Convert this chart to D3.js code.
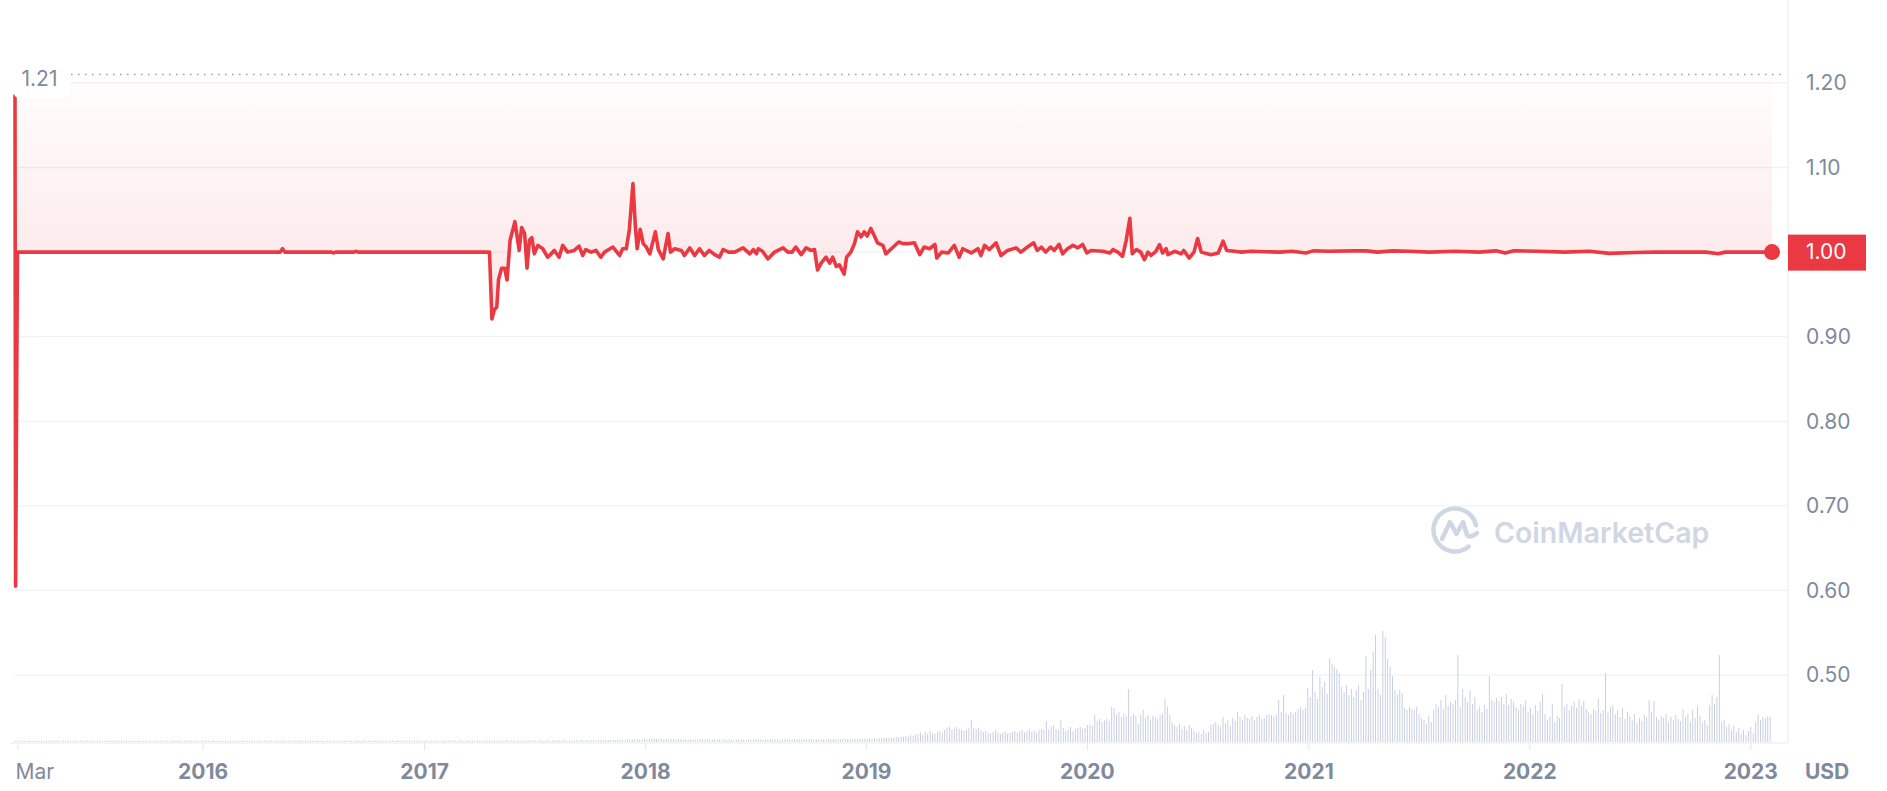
<!DOCTYPE html>
<html><head><meta charset="utf-8">
<script src="https://cdn.jsdelivr.net/npm/d3@7"></script>
<style>html,body{margin:0;padding:0;background:#fff;}svg{display:block;font-family:Inter,"Noto Sans",sans-serif;}</style>
</head><body>
<svg id="chart" width="1887" height="791"></svg>
<script>
// ---- DATA ----
const priceSeries = [
["2015-02-25",1.185],["2015-02-26",0.605],["2015-03-01",1.0],
["2016-05-08",1.0],["2016-05-12",1.004],["2016-05-16",1.0],
["2016-08-01",1.0],["2016-08-04",0.999],["2016-08-08",1.0],
["2016-09-07",1.0],["2016-09-10",1.001],["2016-09-14",1.0],
["2017-04-19",1.0],["2017-04-23",0.921],["2017-04-27",0.932],["2017-05-01",0.935],["2017-05-04",0.968],["2017-05-09",0.981],["2017-05-14",0.981],["2017-05-18",0.967],["2017-05-23",1.014],["2017-05-31",1.036],["2017-06-07",1.002],["2017-06-11",1.029],["2017-06-16",1.022],["2017-06-20",0.981],["2017-06-24",1.014],["2017-06-28",1.017],["2017-07-02",0.998],["2017-07-08",1.008],["2017-07-16",1.004],["2017-07-24",0.994],["2017-07-30",0.998],["2017-08-04",1.002],["2017-08-12",0.994],["2017-08-18",1.008],["2017-08-26",1.0],["2017-09-06",1.002],["2017-09-14",1.007],["2017-09-20",0.996],["2017-09-25",1.003],["2017-10-04",1.0],["2017-10-12",1.002],["2017-10-20",0.994],["2017-10-26",1.0],["2017-11-09",1.006],["2017-11-20",0.996],["2017-11-25",1.004],["2017-12-01",1.004],["2017-12-06",1.026],["2017-12-12",1.081],["2017-12-16",1.03],["2017-12-19",1.004],["2017-12-24",1.027],["2017-12-29",1.01],
["2018-01-03",1.006],["2018-01-09",0.998],["2018-01-18",1.024],["2018-01-23",1.003],["2018-01-31",0.992],["2018-02-08",1.022],["2018-02-12",1.0],["2018-02-19",1.004],["2018-03-02",1.002],["2018-03-07",0.996],["2018-03-16",1.005],["2018-03-24",0.996],["2018-04-01",1.004],["2018-04-09",0.996],["2018-04-17",1.002],["2018-04-26",0.997],["2018-05-04",0.994],["2018-05-10",1.003],["2018-05-19",1.0],["2018-05-29",1.0],["2018-06-12",1.005],["2018-06-23",0.998],["2018-06-29",1.003],["2018-07-04",0.998],["2018-07-07",1.004],["2018-07-14",1.001],["2018-07-23",0.992],["2018-08-03",1.0],["2018-08-17",1.005],["2018-08-25",1.0],["2018-09-01",1.0],["2018-09-07",1.006],["2018-09-16",0.997],["2018-09-24",1.005],["2018-10-02",1.002],["2018-10-08",1.003],["2018-10-13",0.979],["2018-10-19",0.987],["2018-10-27",0.994],["2018-11-02",0.987],["2018-11-07",0.994],["2018-11-13",0.983],["2018-11-18",0.985],["2018-11-26",0.974],["2018-11-30",0.994],["2018-12-07",1.0],["2018-12-13",1.01],["2018-12-18",1.024],["2018-12-24",1.018],["2018-12-29",1.024],
["2019-01-03",1.019],["2019-01-09",1.028],["2019-01-15",1.019],["2019-01-20",1.011],["2019-01-29",1.008],["2019-02-03",0.998],["2019-02-12",1.004],["2019-02-24",1.012],["2019-03-03",1.01],["2019-03-11",1.01],["2019-03-22",1.011],["2019-03-31",0.997],["2019-04-07",1.006],["2019-04-16",1.004],["2019-04-25",1.009],["2019-04-28",0.993],["2019-05-06",1.0],["2019-05-17",0.999],["2019-05-27",1.008],["2019-06-04",0.994],["2019-06-10",1.004],["2019-06-24",0.999],["2019-07-05",1.004],["2019-07-10",0.996],["2019-07-16",1.008],["2019-07-24",1.003],["2019-08-04",1.011],["2019-08-12",0.996],["2019-08-23",1.002],["2019-09-06",1.005],["2019-09-14",1.0],["2019-09-25",1.006],["2019-10-05",1.011],["2019-10-11",1.002],["2019-10-18",1.006],["2019-10-25",1.0],["2019-11-02",1.006],["2019-11-08",1.002],["2019-11-16",1.009],["2019-11-22",0.998],["2019-11-30",1.004],["2019-12-09",1.008],["2019-12-17",1.005],["2019-12-25",1.009],
["2020-01-01",0.999],["2020-01-08",1.002],["2020-01-27",1.001],["2020-02-08",0.999],["2020-02-13",1.003],["2020-02-21",1.0],["2020-02-29",0.995],["2020-03-06",1.014],["2020-03-12",1.04],["2020-03-16",0.998],["2020-03-23",1.003],["2020-03-30",1.0],["2020-04-05",0.991],["2020-04-11",1.0],["2020-04-16",0.996],["2020-04-24",1.001],["2020-04-30",1.009],["2020-05-05",0.999],["2020-05-11",1.004],["2020-05-14",0.997],["2020-05-25",1.001],["2020-06-05",0.998],["2020-06-09",1.002],["2020-06-18",0.993],["2020-06-26",1.0],["2020-07-02",1.016],["2020-07-08",1.0],["2020-07-24",0.997],["2020-08-05",0.999],["2020-08-13",1.013],["2020-08-19",1.002],["2020-09-01",1.001],["2020-09-12",1.0],["2020-09-29",1.001],["2020-10-20",1.0005],["2020-11-15",1.0],["2020-12-05",1.001],["2020-12-28",0.999],
["2021-01-09",1.0015],["2021-02-05",1.001],["2021-03-18",1.0015],["2021-04-07",1.0015],["2021-04-25",1.0],["2021-05-20",1.0015],["2021-06-15",1.001],["2021-07-20",1.0],["2021-09-01",1.001],["2021-10-10",1.0],["2021-11-07",1.0015],["2021-11-22",0.999],["2021-12-07",1.0015],
["2022-01-15",1.001],["2022-03-01",1.0],["2022-04-10",1.001],["2022-05-13",0.9985],["2022-06-26",0.9995],["2022-07-26",1.0],["2022-09-15",1.0],["2022-10-20",1.0],["2022-11-09",0.998],["2022-11-21",1.0],["2022-12-30",1.0],["2023-02-06",1.0]
];

// trading volume, one bar every 4 days from volumeStart (relative, estimated)
const volumeStart = "2015-02-25";
const volumeStepDays = 4;
const volume = [
1.2,1.2,1.3,1.2,1.2,1.2,1.3,1.2,1.2,1.2,1.2,1.3,1.2,1.2,1.2,1.2,1.3,1.2,1.2,1.2,
1.2,1.3,1.2,1.2,1.2,1.2,1.3,1.2,1.2,1.3,1.2,1.2,1.2,1.3,1.2,1.2,1.2,1.2,1.3,1.2,
1.2,1.2,1.3,1.2,1.2,1.3,1.2,1.2,1.2,1.2,1.3,1.2,1.2,1.2,1.3,1.2,1.2,1.2,1.2,1.3,
1.2,1.3,1.2,1.2,1.2,1.3,1.2,1.2,1.3,1.2,1.2,1.2,1.3,1.2,1.2,1.2,1.3,1.2,1.2,1.2,
1.2,1.2,1.3,1.2,1.2,1.2,1.3,1.2,1.2,1.3,1.2,1.2,1.2,1.2,1.3,1.2,1.2,1.3,1.2,1.2,
1.3,1.2,1.2,1.2,1.3,1.2,1.2,1.3,1.2,1.2,1.2,1.3,1.2,1.2,1.3,1.2,1.2,1.2,1.3,1.2,
1.2,1.3,1.2,1.3,1.2,1.2,1.3,1.2,1.2,1.3,1.2,1.3,1.2,1.2,1.3,1.2,1.3,1.2,1.2,1.3,
1.3,1.2,1.3,1.2,1.3,1.3,1.2,1.3,1.2,1.3,1.3,1.2,1.3,1.3,1.2,1.3,1.3,1.2,1.3,1.3,
1.3,1.3,1.2,1.3,1.3,1.3,1.4,1.3,1.3,1.3,1.4,1.3,1.3,1.4,1.3,1.3,1.4,1.3,1.4,1.3,
1.4,1.3,1.4,1.3,1.4,1.4,1.3,1.4,1.4,1.3,1.4,1.4,1.4,1.3,1.4,1.4,1.4,1.3,1.4,1.4,
1.3,1.4,1.3,1.4,1.4,1.3,1.4,1.5,1.4,1.3,1.4,1.4,1.5,1.4,1.3,1.4,1.5,1.4,1.4,1.5,
1.5,1.4,1.5,1.6,1.5,1.4,1.5,1.6,1.5,1.5,1.6,1.5,1.7,1.6,1.5,1.6,1.7,1.6,1.8,1.7,
1.8,1.7,1.9,2.0,1.8,2.1,1.9,2.2,2.0,2.3,2.1,2.5,2.2,2.4,2.8,2.3,2.6,3.0,2.5,2.8,
3.2,2.6,3.6,3.0,4.0,3.1,2.6,3.3,2.8,3.4,2.6,3.0,2.7,2.5,3.1,2.7,2.6,2.4,2.7,2.5,
2.4,2.6,2.3,2.8,2.5,2.4,2.7,2.3,2.5,2.6,2.3,2.4,2.7,2.5,2.3,2.6,2.4,2.5,2.3,2.6,
2.5,2.3,2.6,2.4,2.2,2.5,2.7,2.4,2.3,2.5,2.6,2.4,2.8,2.5,2.3,2.6,2.4,2.5,2.7,2.4,
2.6,2.4,2.5,2.8,2.6,2.4,2.7,2.5,2.9,2.6,2.5,2.7,2.6,2.8,2.5,2.7,2.9,2.6,2.8,2.7,
2.8,2.6,2.9,2.7,3.0,2.8,2.7,3.0,2.9,3.1,3.0,3.3,3.1,3.5,3.2,3.6,3.4,3.8,3.5,4.0,
4.2,3.9,4.5,4.3,5.0,4.6,5.5,5.2,6.0,5.6,6.8,6.2,7.0,8.0,9.5,7.5,10.5,8.5,11,9,
8.5,10,11,9.5,12,14.5,15,12.5,13.5,15,13,12,11,12.5,14,22,14,13,14,12,
10,11,9,8.5,10,12,9.5,8,9,10.5,8.5,9.5,10,11,9,10.5,12,9.5,11,13,
10,11.5,9.5,12,13,12,21,12.5,15,17,13,12,22,14,11,12.5,15,10.5,13,14,
15,13,14,17,17.5,16,27,21,23,20,22,23,21,35,34,27,30,25,28,26,
53,25,28,26,18,27,32,24,27,22,26,25,23,27,28,43,35,27,20,17,
15,18,13,16,12,17,14,11,9,10,8,12,9,10,17,18,20,17,15,25,
19,22,16,24,21,30,25,22,27,24,23,26,22,25,27,23,24,27,28,27,
25,27,42,30,47,29,27,30,28,30,33,35,32,34,54,45,72,50,43,65,
55,60,48,83,78,75,73,69,55,50,57,47,53,45,52,57,42,50,86,53,
72,90,107,53,47,111,105,83,75,66,52,47,52,49,34,32,35,33,32,35,
28,24,22,18,26,20,32,38,35,42,33,47,36,40,38,42,87,35,53,45,
40,52,38,45,32,35,30,37,33,66,42,40,44,41,45,38,48,37,43,40,
35,32,38,36,42,30,34,28,37,31,40,48,28,22,25,38,20,26,24,58,
35,38,32,36,40,34,43,36,41,33,30,28,33,31,43,29,32,69,30,35,
37,28,32,25,34,23,30,26,22,28,19,24,21,27,24,42,30,41,25,22,
26,24,28,20,25,22,27,23,21,33,25,28,20,32,24,36,26,19,22,17,
37,47,38,45,87,20,22,15,18,12,16,10,14,8,12,7,11,15,9,20,
28,22,25,24,26,25
];

const yTicks = [1.2, 1.1, 1.0, 0.9, 0.8, 0.7, 0.6, 0.5];
const xTickDates = ["2015-03-01","2016-01-01","2017-01-01","2018-01-01","2019-01-01","2020-01-01","2021-01-01","2022-01-01","2023-01-01"];
const xTickLabels = ["Mar","2016","2017","2018","2019","2020","2021","2022","2023"];
const maxPrice = 1.21;
const yDomain = [0.42, 1.21];
const xDomain = ["2015-02-25","2023-02-06"];
const currencyLabel = "USD";
const watermarkText = "CoinMarketCap";

// ---- DRAWING ----
const parse = d3.utcParse("%Y-%m-%d");
const prices = priceSeries.map(([d, v]) => ({date: parse(d), value: v}));
const vStart = parse(volumeStart);
const bars = volume.map((v, i) => ({date: d3.utcDay.offset(vStart, i * volumeStepDays), value: v}));
const last = prices[prices.length - 1];

const RED = "#ea3943", GRAY = "#808a9d", GRID = "#f0f2f5";
const plotLeft = 15, plotRight = 1788, plotBottom = 743;

const x = d3.scaleUtc().domain(xDomain.map(parse)).range([15, 1772]);
const y = d3.scaleLinear().domain(yDomain).range([742.7, 74.5]);
const vy = d3.scaleLinear().domain([0, d3.max(volume)]).range([742, 631]);

const svg = d3.select("#chart");
const defs = svg.append("defs");
const grad = defs.append("linearGradient").attr("id", "areaGrad")
  .attr("gradientUnits", "userSpaceOnUse")
  .attr("x1", 0).attr("x2", 0).attr("y1", y(maxPrice)).attr("y2", y(1.0));
grad.append("stop").attr("offset", 0).attr("stop-color", RED).attr("stop-opacity", 0.01);
grad.append("stop").attr("offset", 1).attr("stop-color", RED).attr("stop-opacity", 0.1);

// grid
svg.append("g").selectAll("line").data(yTicks).join("line")
  .attr("x1", plotLeft).attr("x2", plotRight)
  .attr("y1", d => y(d)).attr("y2", d => y(d))
  .attr("stroke", GRID).attr("stroke-width", 1.2);

// right border & bottom axis line
svg.append("line").attr("x1", plotRight).attr("x2", plotRight).attr("y1", 0).attr("y2", plotBottom)
  .attr("stroke", GRID).attr("stroke-width", 1.5);
svg.append("line").attr("x1", plotLeft - 5).attr("x2", plotRight).attr("y1", plotBottom).attr("y2", plotBottom)
  .attr("stroke", GRID).attr("stroke-width", 1.5);

// dotted max line
svg.append("line").attr("x1", plotLeft).attr("x2", plotRight - 2)
  .attr("y1", y(maxPrice)).attr("y2", y(maxPrice))
  .attr("stroke", "#9ea6b8").attr("stroke-width", 1.6).attr("stroke-dasharray", "1.6 5.4");

// watermark
const wm = svg.append("g").attr("fill", "none").attr("stroke", "#cfd6e4")
  .attr("stroke-width", 4.5).attr("stroke-linecap", "round").attr("stroke-linejoin", "round");
const cx = 1455, cy = 530, r = 21.5;
const arc = d3.path();
arc.arc(cx, cy, r, Math.PI * 0.28, Math.PI * 1.93, false);
wm.append("path").attr("d", arc.toString());
wm.append("path").attr("d", `M${cx-13},${cy+9} L${cx-5},${cy-8} L${cx+1.5},${cy+4} L${cx+8},${cy-8} L${cx+12},${cy+5} Q${cx+15},${cy+9} ${cx+22},${cy+3}`);
svg.append("text").attr("x", 1494).attr("y", 543).text(watermarkText)
  .attr("font-size", 28.5).attr("font-weight", 600).attr("fill", "#cfd6e4");

// volume bars
svg.append("g").selectAll("rect").data(bars).join("rect")
  .attr("x", d => x(d.date) - 0.45).attr("width", 0.9)
  .attr("y", d => vy(d.value)).attr("height", d => 742 - vy(d.value))
  .attr("fill", "#c3cbdd");

// area
svg.append("path").datum(prices)
  .attr("d", d3.area().x(d => x(d.date)).y0(y(maxPrice)).y1(d => y(d.value)))
  .attr("fill", "url(#areaGrad)");

// line
svg.append("path").datum(prices)
  .attr("d", d3.line().x(d => x(d.date)).y(d => y(d.value)))
  .attr("fill", "none").attr("stroke", RED).attr("stroke-width", 3.6)
  .attr("stroke-linejoin", "round").attr("stroke-linecap", "round");

// last dot
svg.append("circle").attr("cx", x(last.date)).attr("cy", y(last.value)).attr("r", 8).attr("fill", RED);

// max label
svg.append("rect").attr("x", 14).attr("y", 64).attr("width", 56).attr("height", 34).attr("rx", 5).attr("fill", "#fff");
svg.append("text").attr("x", 21.5).attr("y", y(maxPrice)).attr("dy", "0.55em").text(maxPrice.toFixed(2))
  .attr("font-size", 21).attr("fill", GRAY);

// y axis
const yAxis = svg.append("g").attr("transform", "translate(1806,0)")
  .call(d3.axisRight(y).tickValues(yTicks).tickFormat(d3.format(".2f")).tickSize(0).tickPadding(0));
yAxis.select(".domain").remove();
yAxis.selectAll("text").attr("fill", GRAY).attr("font-size", 21).attr("font-family", "Inter").attr("text-anchor", "start");

// x axis
const xAxis = svg.append("g").attr("transform", `translate(0,${plotBottom})`)
  .call(d3.axisBottom(x).tickValues(xTickDates.map(parse)).tickFormat((d, i) => xTickLabels[i]).tickSize(7).tickPadding(14));
xAxis.select(".domain").remove();
xAxis.selectAll(".tick line").attr("stroke", "#e6e9ee").attr("stroke-width", 1.2);
xAxis.selectAll("text").attr("fill", GRAY).attr("font-size", 21).attr("font-family", "Inter").attr("font-weight", 700);
xAxis.selectAll(".tick").filter((d, i) => i === 0).select("text")
  .attr("font-weight", 400).attr("text-anchor", "start").attr("dx", -2.5);

// currency label
svg.append("text").attr("x", 1805).attr("y", plotBottom + 7 + 14).attr("dy", "0.71em").text(currencyLabel)
  .attr("font-size", 21).attr("font-weight", 700).attr("fill", GRAY);

// current price badge
svg.append("rect").attr("x", plotRight).attr("y", y(last.value) - 17.5).attr("width", 78).attr("height", 36).attr("fill", RED);
svg.append("text").attr("x", 1806).attr("y", y(last.value)).attr("dy", "0.35em").text(last.value.toFixed(2))
  .attr("font-size", 21).attr("fill", "#fff");
</script>
</body></html>
